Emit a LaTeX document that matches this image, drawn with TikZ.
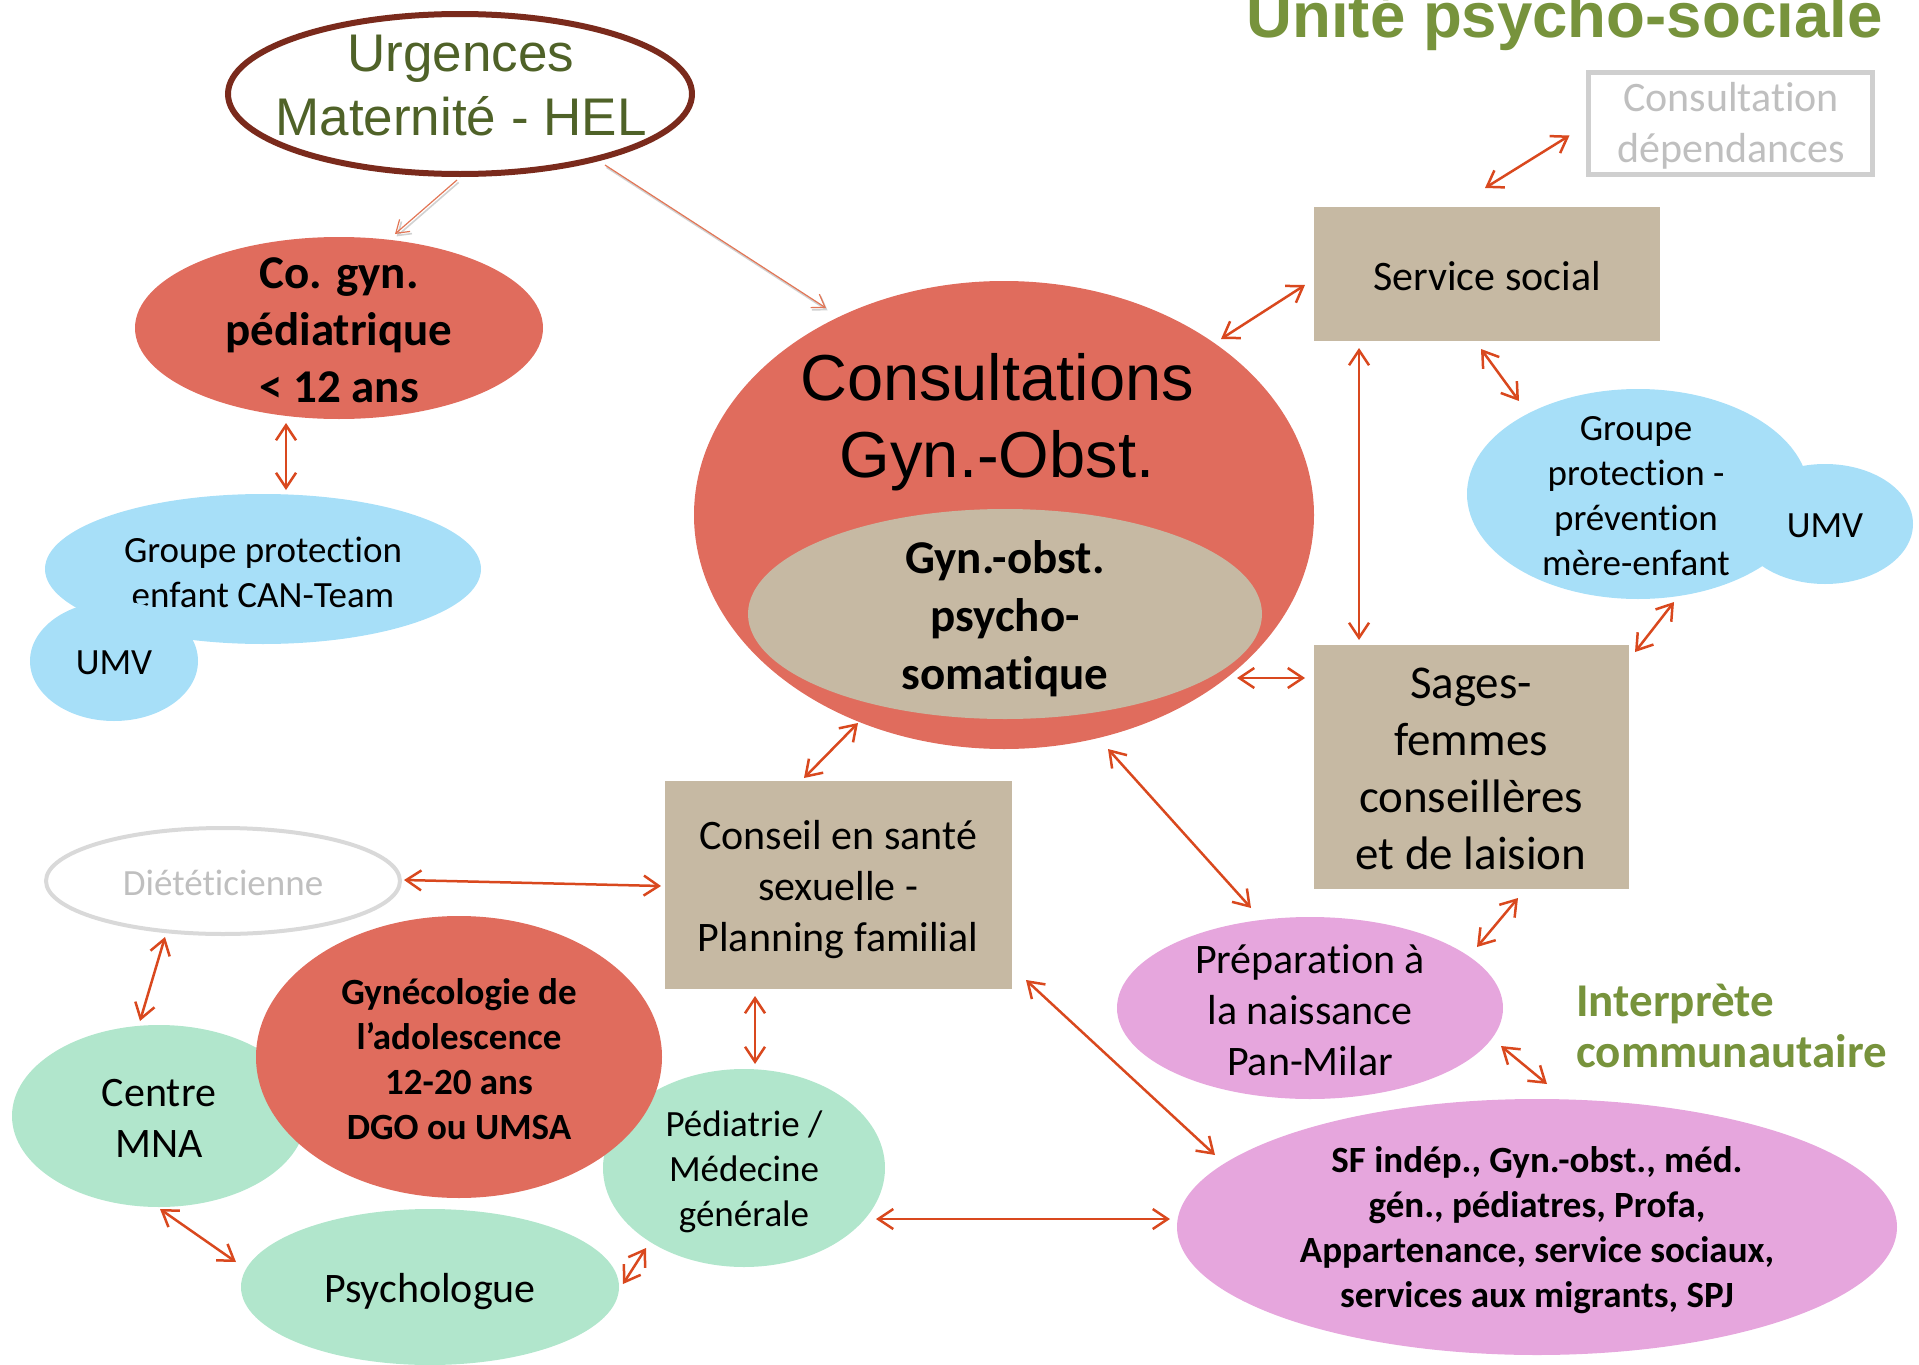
\documentclass[tikz,border=0pt]{standalone}
\usepackage{fontspec}
\setmainfont{Carlito}[Ligatures={NoCommon,NoContextual}]
\newfontfamily\arialfont{Liberation Sans}
\usetikzlibrary{shapes.geometric,arrows.meta}

\definecolor{redfill}{HTML}{E06C5D}
\definecolor{tanfill}{HTML}{C6B9A3}
\definecolor{skyfill}{HTML}{A7DFF8}
\definecolor{mintfill}{HTML}{B1E6CC}
\definecolor{pinkfill}{HTML}{E6A6DD}
\definecolor{linkcol}{HTML}{D9481E}
\definecolor{olivetext}{HTML}{77933C}
\definecolor{darkolive}{HTML}{4F6228}
\definecolor{urgrim}{HTML}{7A2A1C}
\definecolor{greytext}{HTML}{BFBFBF}
\definecolor{greyrim}{HTML}{D9D9D9}

\newcommand\pxsize[2]{\fontsize{#1}{#2}\selectfont}

\begin{document}
\begin{tikzpicture}[x=0.5pt,y=-0.5pt,
  shp/.style={inner sep=0pt,outer sep=0pt},
  ell/.style={shp,ellipse},
  blk/.style={shp,rectangle},
  lbl/.style={align=center,inner sep=0pt,text=black},
  fsS/.style={font=\pxsize{18.5pt}{22.5pt}},
  fsM/.style={font=\pxsize{21pt}{25.5pt}},
  fsL/.style={font=\pxsize{23.5pt}{28.5pt}},
  >={Straight Barb[length=7.5pt,width=10pt]},
  link/.style={draw=linkcol,line width=1.25pt,<->},
  feed/.style={draw=linkcol!75,line width=0.6pt,-{Straight Barb[length=6pt,width=8pt]}},
  feedshade/.style={draw=black!18,line width=0.8pt,-{Straight Barb[length=6pt,width=8pt]},
    transform canvas={shift={(0.8pt,-1.2pt)}}}
]
\useasboundingbox (0,0) rectangle (1919,1365);
\clip (0,0) rectangle (1919,1365);

% title (runs off the top edge)
\node[anchor=base west,inner sep=0pt,text=olivetext,
      font=\arialfont\bfseries\pxsize{31.8pt}{36pt}] (title) at (1246,38) {Unité psycho-sociale};

% emergencies
\node[ell,draw=urgrim,line width=3pt,minimum width=232pt,minimum height=80pt] (urg) at (460,94) {};
\node[lbl,text=darkolive,font=\arialfont\pxsize{26.5pt}{32pt}] at (461,86) {Urgences\\Maternité - HEL};

% paediatric gynaecology and child protection
\node[ell,fill=redfill,minimum width=204pt,minimum height=91pt] (cogyn) at (339,328) {};
\node[lbl,font=\bfseries\pxsize{23.5pt}{28.5pt}] at (339,330) {Co. gyn.\\pédiatrique\\< 12 ans};
\node[ell,fill=skyfill,minimum width=218pt,minimum height=75pt] (can) at (263,569) {};
\node[lbl,fsS] at (263,572) {Groupe protection\\enfant CAN-Team};
\node[ell,fill=skyfill,minimum width=84pt,minimum height=60pt] (umvl) at (114,661) {};
\node[lbl,fsS] at (114,663) {UMV};

% central consultations
\node[ell,fill=redfill,minimum width=310pt,minimum height=234pt] (cons) at (1004,515) {};
\node[lbl,font=\arialfont\pxsize{32.5pt}{38.5pt}] at (997,422) {Consultations\\Gyn.-Obst.};
\node[ell,fill=tanfill,minimum width=257pt,minimum height=105pt] (psy) at (1005,614) {};
\node[lbl,font=\bfseries\pxsize{23.5pt}{29pt}] at (1005,619) {Gyn.-obst.\\psycho-\\somatique};

% social service and addictions
\node[blk,fill=tanfill,minimum width=173pt,minimum height=67pt] (ss) at (1487,274) {};
\node[lbl,fsM] at (1487,276) {Service social};
\node[blk,draw=greyrim!60!greytext,line width=2.5pt,minimum width=142pt,minimum height=51pt] (cd) at (1730.5,123.5) {};
\node[lbl,fsM,text=greytext] at (1731,126) {Consultation\\dépendances};

% mother-child protection group
\node[ell,fill=skyfill,minimum width=171pt,minimum height=105pt] (gpr) at (1638,494) {};
\node[ell,fill=skyfill,minimum width=88pt,minimum height=60pt] (umvr) at (1825,524) {};
\node[lbl,fsS] at (1636,496) {Groupe\\protection -\\prévention\\mère-enfant};
\node[lbl,fsS] at (1825,526) {UMV};

% midwives
\node[blk,fill=tanfill,minimum width=157.5pt,minimum height=122pt] (sf) at (1471.5,767) {};
\node[lbl,fsL] at (1471,769) {Sages-\\femmes\\conseillères\\et de laision};

% sexual health counselling
\node[blk,fill=tanfill,minimum width=173.5pt,minimum height=104pt] (csf) at (838.5,885) {};
\node[lbl,fsM] at (838,890) {Conseil en santé\\sexuelle -\\Planning familial};

% dietician
\node[ell,draw=greyrim,line width=2pt,minimum width=177pt,minimum height=53pt] (diet) at (223,881) {};
\node[lbl,fsS,text=greytext] at (223,883) {Diététicienne};

% adolescent cluster
\node[ell,fill=mintfill,minimum width=147pt,minimum height=91pt] (mna) at (159,1116) {};
\node[lbl,fsM] at (159,1118) {Centre\\MNA};
\node[ell,fill=mintfill,minimum width=141pt,minimum height=99pt] (ped) at (744,1168) {};
\node[lbl,fsS] at (744,1172) {Pédiatrie /\\Médecine\\générale};
\node[ell,fill=mintfill,minimum width=189pt,minimum height=78pt] (psyc) at (430,1287) {};
\node[lbl,fsM] at (430,1292) {Psychologue};
\node[ell,fill=redfill,minimum width=203pt,minimum height=141pt] (gado) at (459,1057) {};
\node[lbl,font=\bfseries\pxsize{18.5pt}{22.5pt}] at (459,1059) {Gynécologie de\\l’adolescence\\12-20 ans\\DGO ou UMSA};

% birth preparation and outside network
\node[ell,fill=pinkfill,minimum width=193pt,minimum height=91pt] (prep) at (1310,1008) {};
\node[lbl,fsM] at (1310,1010) {Préparation à\\la naissance\\Pan-Milar};
\node[ell,fill=pinkfill,minimum width=360pt,minimum height=128pt] (ext) at (1537,1227) {};
\node[lbl,font=\bfseries\pxsize{18.5pt}{22.5pt}] at (1537,1230)
  {SF indép., Gyn.-obst., méd.\\gén., pédiatres, Profa,\\Appartenance, service sociaux,\\services aux migrants, SPJ};

% interpreter
\node[anchor=west,align=left,inner sep=0pt,text=olivetext,
      font=\bfseries\pxsize{23.5pt}{25.5pt}] (interp) at (1576,1026) {Interprète\\communautaire};

% referrals from the emergency unit
\draw[feedshade] ([shift={(-3,86)}]urg.center) -- ([shift={(56,-94)}]cogyn.center);
\draw[feed] ([shift={(-3,86)}]urg.center) -- ([shift={(56,-94)}]cogyn.center);
\draw[feedshade] ([shift={(145,71)}]urg.center) -- ([shift={(-178,-207)}]cons.center);
\draw[feed] ([shift={(145,71)}]urg.center) -- ([shift={(-178,-207)}]cons.center);

% two-way links
\draw[link] ([shift={(-19,12)}]cd.west) -- ([shift={(-2,-19)}]ss.north);
\draw[link] ([shift={(-9,11)}]ss.west) -- ([shift={(217,-176)}]cons.center);
\draw[link] ([shift={(-128,7)}]ss.south) -- ([shift={(-112.5,-5)}]sf.north);
\draw[link] ([shift={(-6,8)}]ss.south) -- ([shift={(-119,-93)}]gpr.center);
\draw[link] ([shift={(36,108)}]gpr.center) -- ([shift={(6,7)}]sf.north east);
\draw[link] ([shift={(233,163)}]cons.center) -- ([shift={(-9,-89)}]sf.west);
\draw[link] ([shift={(-146,208)}]cons.center) -- ([shift={(-34.5,-3)}]csf.north);
\draw[link] ([shift={(104,234)}]cons.center) -- ([shift={(-59,-100)}]prep.center);
\draw[link] ([shift={(46.5,9)}]sf.south) -- ([shift={(167,-61)}]prep.center);
\draw[link] ([shift={(191,38)}]prep.center) -- ([shift={(10,-143)}]ext.center);
\draw[link] ([shift={(14,-9)}]csf.south east) -- ([shift={(-322,-72)}]ext.center);
\draw[link] ([shift={(132,51)}]ped.center) -- ([shift={(-367,-8)}]ext.center);
\draw[link] ([shift={(-83.5,7)}]csf.south) -- ([shift={(11,-104)}]ped.center);
\draw[link] ([shift={(4,-1)}]diet.east) -- ([shift={(-4,1)}]csf.west);
\draw[link] ([shift={(-58,56)}]diet.center) -- ([shift={(-19,-95)}]mna.center);
\draw[link] ([shift={(1,93)}]mna.center) -- ([shift={(-194,-25)}]psyc.center);
\draw[link] ([shift={(193,-3)}]psyc.center) -- ([shift={(-98,80)}]ped.center);
\draw[link] ([shift={(-53,95)}]cogyn.center) -- ([shift={(23,-79)}]can.center);
\end{tikzpicture}
\end{document}
